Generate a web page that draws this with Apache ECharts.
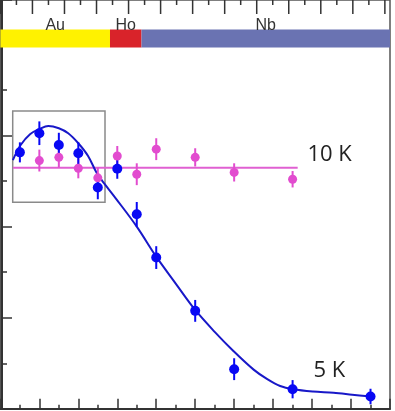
<!DOCTYPE html>
<html>
<head>
<meta charset="utf-8">
<script src="https://cdn.jsdelivr.net/npm/echarts@6/dist/echarts.min.js"></script>
<style>
html,body{margin:0;padding:0;background:#fff;}
#chart{width:395px;height:411px;}
</style>
</head>
<body>
<div id="chart"></div>
<script>
// ---- data ----
const xPos5K   = [0.5, 1, 1.5, 2, 2.5, 3, 3.5, 4, 5, 6, 7.5, 9.5];
const val5K    = [5.63, 6.05, 5.79, 5.61, 4.86, 5.27, 4.27, 3.32, 2.15, 0.87, 0.43, 0.27];
const err5K    = [0.22, 0.26, 0.27, 0.24, 0.26, 0.22, 0.27, 0.25, 0.24, 0.24, 0.20, 0.17];

const xPos10K  = [1, 1.5, 2, 2.5, 3, 3.5, 4, 5, 6, 7.5];
const val10K   = [5.45, 5.52, 5.28, 5.07, 5.55, 5.15, 5.70, 5.52, 5.19, 5.04];
const err10K   = [0.24, 0.22, 0.22, 0.22, 0.22, 0.24, 0.24, 0.20, 0.20, 0.18];

const mean10KX = [0.32, 7.63];
const mean10KY = [5.29, 5.29];

const fitX = [0.32, 0.52, 0.76, 1.0, 1.23, 1.5, 1.74, 2.0, 2.25, 2.47, 2.6, 2.97, 3.5, 4.0, 4.5, 5.0, 5.5, 5.98, 6.5, 6.85, 7.18, 7.52, 8.02, 8.55, 9.03, 9.51];
const fitY = [5.46, 5.79, 6.03, 6.14, 6.21, 6.16, 6.05, 5.83, 5.55, 5.18, 5.02, 4.61, 4.00, 3.34, 2.75, 2.17, 1.69, 1.27, 0.86, 0.65, 0.50, 0.43, 0.38, 0.35, 0.31, 0.27];

const layerNames = ['Au', 'Ho', 'Nb'];
const layerStart = [0.0, 2.813, 3.622];
const layerEnd   = [2.813, 3.622, 10];

const insetX = [0.316, 2.685];
const insetY = [4.533, 6.538];

// top scale ticks (major on whole numbers, minor on halves)
const topTicks = [0, 0.5, 1, 1.5, 2, 2.5, 3, 3.5, 4, 4.5, 5, 5.5, 6, 6.5, 7, 7.5, 8, 8.5, 9, 9.5, 10, 10.5, 11, 11.5, 12];

// ---- styles ----
const layerColors = ['#FFF200', '#D9232A', '#6A73B2'];
const BLUE = '#0808F4', FIT = '#1818C8', PINK = '#E24CCF', PINKLINE = '#E060D2';
const AX = '#333';
const Y_MAX = 8.975;

const chart = echarts.init(document.getElementById('chart'));

function errSeries(xs, ys, es, color) {
  return {
    type: 'custom', z: 3,
    data: xs.map((x, i) => [x, ys[i], es[i]]),
    renderItem: function (params, api) {
      const x = api.value(0), y = api.value(1), e = api.value(2);
      const a = api.coord([x, y - e]), b = api.coord([x, y + e]);
      return { type: 'line', shape: { x1: a[0], y1: a[1], x2: b[0], y2: b[1] },
               style: { stroke: color, lineWidth: 2 } };
    },
    silent: true
  };
}

const option = {
  animation: false,
  backgroundColor: '#fff',
  grid: { left: 0.4, right: 5, top: 0, bottom: 2.2, containLabel: false,
          show: true, backgroundColor: 'transparent', borderColor: '#555', borderWidth: 1.5 },
  xAxis: [
    { type: 'value', min: 0, max: 10, interval: 1, position: 'bottom',
      axisLine: { show: true, onZero: false, lineStyle: { color: AX, width: 2 } },
      axisTick: { show: true, inside: true, length: 10, lineStyle: { color: AX, width: 1.5 } },
      minorTick: { show: true, splitNumber: 2, length: 4, lineStyle: { color: AX, width: 1.5 } },
      axisLabel: { show: false }, splitLine: { show: false } },
    { type: 'value', min: 0, max: 12.16, interval: 1, position: 'top',
      axisLine: { show: false, onZero: false },
      axisTick: { show: false }, minorTick: { show: false },
      axisLabel: { show: false }, splitLine: { show: false } }
  ],
  yAxis: [
    { type: 'value', min: 0, max: Y_MAX, interval: 2, position: 'left', offset: -1.6,
      axisLine: { show: true, onZero: false, lineStyle: { color: AX, width: 2 } },
      axisTick: { show: true, inside: true, length: 10, lineStyle: { color: AX, width: 1.5 } },
      minorTick: { show: true, splitNumber: 2, length: 5, lineStyle: { color: AX, width: 1.5 } },
      axisLabel: { show: false }, splitLine: { show: false } }
  ],
  series: [
    { // top scale ticks, placed through the top x scale
      type: 'custom', z: 6, silent: true, xAxisIndex: 1, yAxisIndex: 0,
      data: topTicks.map(v => [v]),
      renderItem: function (params, api) {
        const v = api.value(0);
        const p = api.coord([v, Y_MAX]);
        const major = Math.abs(v - Math.round(v)) < 1e-6;
        return { type: 'line', shape: { x1: p[0], y1: p[1], x2: p[0], y2: p[1] + (major ? 14 : 5) },
                 style: { stroke: AX, lineWidth: 1.5 } };
      }
    },
    { // layer colour bar
      type: 'custom', z: 1, silent: true,
      data: layerNames.map((n, i) => [layerStart[i], layerEnd[i], i]),
      renderItem: function (params, api) {
        const i = api.value(2);
        const a = api.coord([api.value(0), 8.33]);
        const b = api.coord([api.value(1), 7.93]);
        return {
          type: 'rect',
          shape: { x: a[0], y: a[1], width: b[0] - a[0], height: b[1] - a[1] },
          style: { fill: layerColors[i] },
          textContent: { style: { text: layerNames[i], fill: '#333', fontSize: 16,
                                  fontFamily: 'Liberation Sans, Arial, sans-serif',
                                  align: 'center', verticalAlign: 'middle' } },
          textConfig: { position: [(b[0] - a[0]) / 2, -4] }
        };
      }
    },
    { // inset box
      type: 'line', data: [], z: 1,
      markArea: { silent: true,
        itemStyle: { color: 'rgba(0,0,0,0)', borderColor: '#8a8a8a', borderWidth: 1.5 },
        data: [[{ coord: [insetX[0], insetY[1]] }, { coord: [insetX[1], insetY[0]] }]] }
    },
    { // 10K mean line
      type: 'line', z: 2, symbol: 'none', silent: true,
      data: mean10KX.map((x, i) => [x, mean10KY[i]]),
      lineStyle: { color: PINKLINE, width: 2 }
    },
    { // 5K fit
      type: 'line', z: 2, symbol: 'none', smooth: 0.35, silent: true,
      data: fitX.map((x, i) => [x, fitY[i]]),
      lineStyle: { color: FIT, width: 2 }
    },
    errSeries(xPos10K, val10K, err10K, PINK),
    errSeries(xPos5K, val5K, err5K, BLUE),
    { type: 'scatter', z: 4, symbolSize: 9, itemStyle: { color: PINK, opacity: 1 },
      data: xPos10K.map((x, i) => [x, val10K[i]]) },
    { type: 'scatter', z: 5, symbolSize: 10, itemStyle: { color: BLUE, opacity: 1 },
      data: xPos5K.map((x, i) => [x, val5K[i]]) }
  ],
  graphic: [
    { type: 'text', x: 307.5, y: 154.5, style: { text: '10 K', fill: '#222', fontSize: 22,
      fontFamily: 'Open Sans, sans-serif', verticalAlign: 'middle' } },
    { type: 'text', x: 313.5, y: 371, style: { text: '5 K', fill: '#222', fontSize: 22,
      fontFamily: 'Open Sans, sans-serif', verticalAlign: 'middle' } }
  ]
};
chart.setOption(option);
</script>
</body>
</html>
